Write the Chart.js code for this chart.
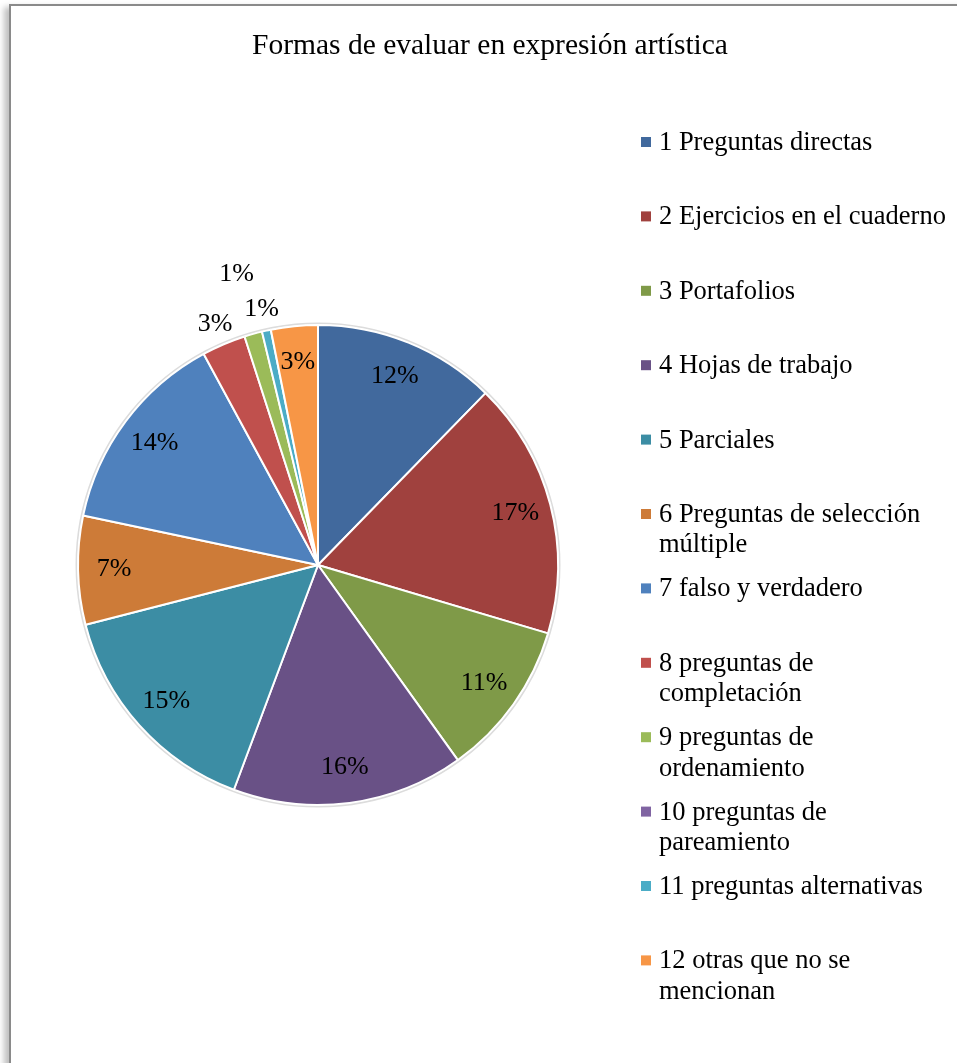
<!DOCTYPE html>
<html>
<head>
<meta charset="utf-8">
<script src="https://cdn.jsdelivr.net/npm/chart.js@4"></script>
<style>
    body { margin: 0; background: #ffffff; }
    #wrap { position: relative; width: 957px; height: 1063px; overflow: hidden; }
    #frame {
        position: absolute; left: 9px; top: 4px; width: 1400px; height: 1400px;
        border-left: 2px solid #8a8a8a; border-top: 2px solid #8a8a8a;
        box-shadow: -5px 3px 6px rgba(0, 0, 0, 0.25);
        background: #ffffff;
    }
    #chart { position: absolute; left: 0; top: 0; }
</style>
</head>
<body>
<div id="wrap">
    <div id="frame"></div>
    <canvas id="chart" width="957" height="1063"></canvas>
</div>
<script>
// Forms of assessment - pie chart data
const chartTitle = 'Formas de evaluar en expresión artística';

const categories = [
    ['1 Preguntas directas'],
    ['2 Ejercicios en el cuaderno'],
    ['3 Portafolios'],
    ['4 Hojas de trabajo'],
    ['5 Parciales'],
    ['6 Preguntas de selección', 'múltiple'],
    ['7 falso y verdadero'],
    ['8 preguntas de', 'completación'],
    ['9 preguntas de', 'ordenamiento'],
    ['10 preguntas de', 'pareamiento'],
    ['11 preguntas alternativas'],
    ['12 otras que no se', 'mencionan'],
];

const shares = [12.3, 17.3, 10.5, 15.6, 15.3, 7.3, 13.8, 2.95, 1.2, 0, 0.6, 3.15];

const sliceColors = [
    '#41699d', '#a0413e', '#7f9a48', '#695186', '#3c8da4', '#cd7b38',
    '#4f81bd', '#c0504d', '#9bbb59', '#8064a2', '#4bacc6', '#f79646',
];

const serif = '"Liberation Serif", "Times New Roman", serif';

// Title, legend and percentage labels
const decorPlugin = {
    id: 'decor',
    beforeDatasetsDraw(chart) {
        const arc = chart.getDatasetMeta(0).data[0];
        const ctx = chart.ctx;
        ctx.save();
        ctx.beginPath();
        ctx.arc(arc.x, arc.y, arc.outerRadius + 1.5, 0, Math.PI * 2);
        ctx.strokeStyle = '#dcdcdc';
        ctx.lineWidth = 2;
        ctx.stroke();
        ctx.restore();
    },
    afterDraw(chart) {
        const ctx = chart.ctx;
        ctx.save();
        ctx.fillStyle = '#000000';

        // title
        ctx.font = '29.5px ' + serif;
        ctx.textAlign = 'center';
        ctx.textBaseline = 'alphabetic';
        ctx.fillText(chartTitle, 490, 54);

        // legend
        ctx.font = '26.5px ' + serif;
        ctx.textAlign = 'left';
        ctx.textBaseline = 'middle';
        categories.forEach((lines, i) => {
            const y = 142 + i * 74.4;
            ctx.fillStyle = sliceColors[i];
            ctx.fillRect(641, y - 5, 10, 10);
            ctx.fillStyle = '#000000';
            lines.forEach((line, j) => ctx.fillText(line, 659, y + 1 + j * 30.5));
        });

        // percentage labels; small slices go outside, placed from the last slice backwards
        ctx.font = '26px ' + serif;
        const total = shares.reduce((a, b) => a + b, 0);
        const meta = chart.getDatasetMeta(0);
        const placed = [];
        ctx.textAlign = 'center';
        for (let i = meta.data.length - 1; i >= 0; i--) {
            const el = meta.data[i];
            if (!shares[i]) continue;
            const text = Math.round((shares[i] / total) * 100) + '%';
            const mid = (el.startAngle + el.endAngle) / 2;
            const w = ctx.measureText(text).width;
            let r = el.outerRadius * 0.85;
            if (shares[i] / total < 0.03) {
                r = el.outerRadius + 22;
                let hit = true;
                while (hit) {
                    const bx = el.x + Math.cos(mid) * r;
                    const by = el.y + Math.sin(mid) * r;
                    hit = placed.some((p) => Math.abs(p.x - bx) < (p.w + w) / 2 && Math.abs(p.y - by) < 32);
                    if (hit) r += 4;
                }
            }
            const x = el.x + Math.cos(mid) * r;
            const y = el.y + Math.sin(mid) * r;
            placed.push({ x, y, w });
            ctx.fillText(text, x, y);
        }
        ctx.restore();
    },
};

new Chart(document.getElementById('chart'), {
    type: 'pie',
    data: {
        labels: categories.map((c) => c.join(' ')),
        datasets: [
            {
                data: shares,
                backgroundColor: sliceColors,
                borderColor: '#ffffff',
                borderWidth: 2,
            },
        ],
    },
    options: {
        responsive: false,
        animation: false,
        layout: { padding: { left: 77, right: 398, top: 324, bottom: 257 } },
        plugins: {
            legend: { display: false },
            title: { display: false },
            tooltip: { enabled: false },
        },
    },
    plugins: [decorPlugin],
});
</script>
</body>
</html>
